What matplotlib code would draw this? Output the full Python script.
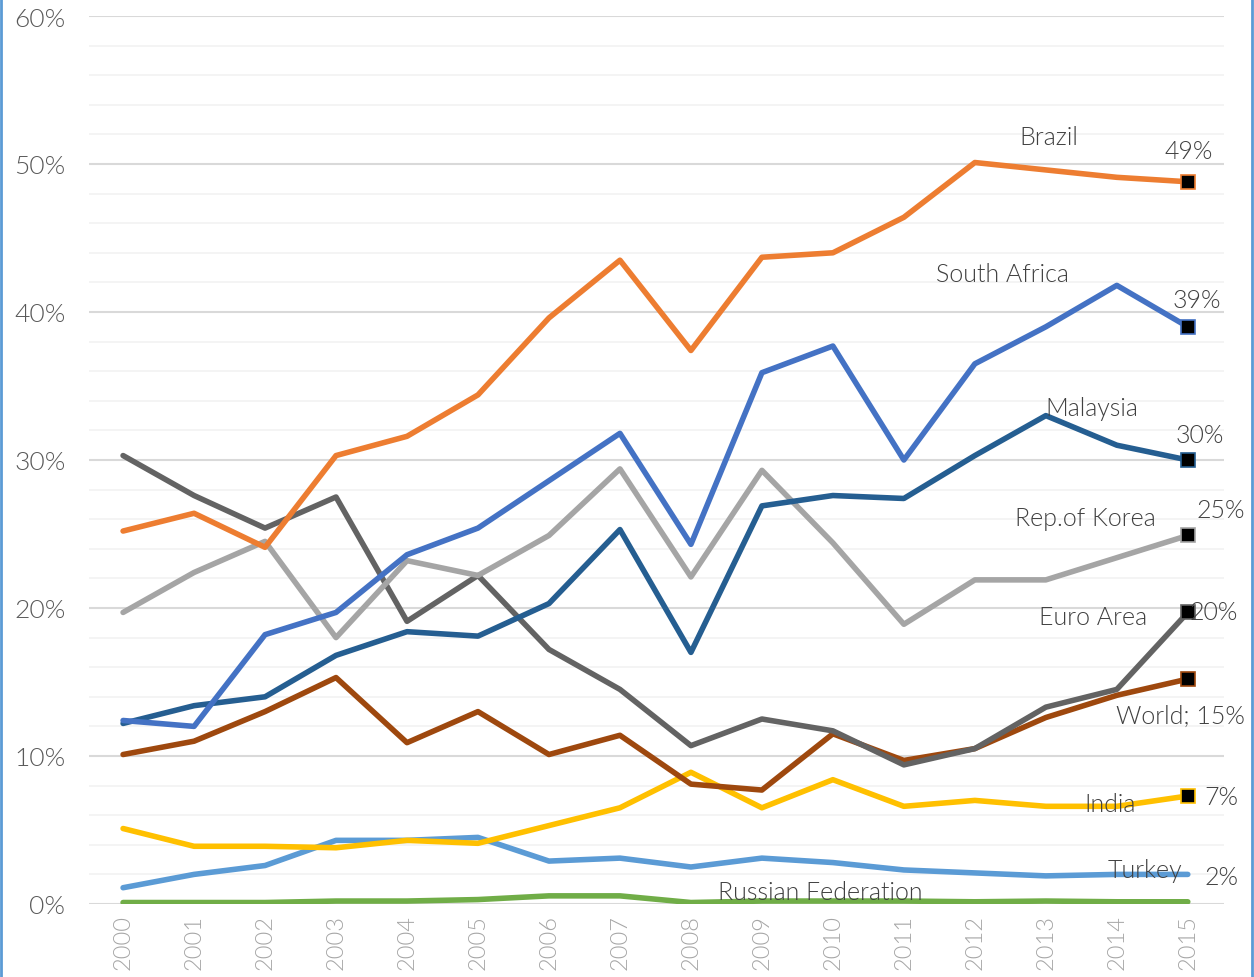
import numpy as np
import matplotlib
matplotlib.use("Agg")
import matplotlib.pyplot as plt
from matplotlib.lines import Line2D

plt.rcParams['font.family'] = ['Lato', 'DejaVu Sans']
plt.rcParams['font.weight'] = 300

years = list(range(2000, 2016))

brazil = [25.2, 26.4, 24.1, 30.3, 31.6, 34.4, 39.6, 43.5, 37.4, 43.7, 44.0, 46.4, 50.1, 49.6, 49.1, 48.8]
south_africa = [12.4, 12.0, 18.2, 19.7, 23.6, 25.4, 28.6, 31.8, 24.3, 35.9, 37.7, 30.0, 36.5, 39.0, 41.8, 39.0]
malaysia = [12.2, 13.4, 14.0, 16.8, 18.4, 18.1, 20.3, 25.3, 17.0, 26.9, 27.6, 27.4, 30.3, 33.0, 31.0, 30.0]
korea = [19.7, 22.4, 24.5, 18.0, 23.2, 22.2, 24.9, 29.4, 22.1, 29.3, 24.4, 18.9, 21.9, 21.9, 23.4, 24.9]
euro_area = [30.3, 27.6, 25.4, 27.5, 19.1, 22.2, 17.2, 14.5, 10.7, 12.5, 11.7, 9.4, 10.5, 13.3, 14.5, 19.7]
world = [10.1, 11.0, 13.0, 15.3, 10.9, 13.0, 10.1, 11.4, 8.1, 7.7, 11.5, 9.7, 10.5, 12.6, 14.1, 15.2]
india = [5.1, 3.9, 3.9, 3.8, 4.3, 4.1, 5.3, 6.5, 8.9, 6.5, 8.4, 6.6, 7.0, 6.6, 6.6, 7.3]
turkey = [1.1, 2.0, 2.6, 4.3, 4.3, 4.5, 2.9, 3.1, 2.5, 3.1, 2.8, 2.3, 2.1, 1.9, 2.0, 2.0]
russia = [0.1, 0.1, 0.1, 0.2, 0.2, 0.3, 0.55, 0.55, 0.1, 0.2, 0.2, 0.2, 0.15, 0.2, 0.15, 0.15]

# series drawn in this order: name, data, colour, end marker
series = [
    ("Russian Federation", russia, "#70AD47", False),
    ("Turkey", turkey, "#5B9BD5", False),
    ("India", india, "#FFC000", True),
    ("World", world, "#9E480E", True),
    ("Euro Area", euro_area, "#636363", True),
    ("Rep.of Korea", korea, "#A5A5A5", True),
    ("Malaysia", malaysia, "#255E91", True),
    ("South Africa", south_africa, "#4472C4", True),
    ("Brazil", brazil, "#ED7D31", True),
]

fig = plt.figure(figsize=(12.54, 9.78), dpi=100)
ax = fig.add_axes([89/1254, 1 - 905/978, (1224-89)/1254, (905-17)/978])

for name, vals, col, mark in series:
    ax.plot(years, vals, color=col, lw=4, solid_capstyle='round', zorder=3)
    if mark:
        ax.plot(years[-1], vals[-1], marker='s', ms=10, mfc='black', mec=col,
                mew=1.2, zorder=4)

ax.set_xlim(1999.52, 2015.51)
ax.set_ylim(0, 60)
ax.set_yticks(np.arange(0, 61, 10))
ax.set_yticklabels([f"{v}%" for v in range(0, 61, 10)])
ax.set_yticks(np.arange(0, 61, 2), minor=True)
ax.set_xticks(years)
ax.set_xticklabels([str(y) for y in years], rotation=90)

ax.grid(True, which='major', axis='y', color='#D9D9D9', lw=1.5, zorder=0)
ax.grid(True, which='minor', axis='y', color='#F2F2F2', lw=1.2, zorder=0)
ax.grid(False, axis='x')
for s in ax.spines.values():
    s.set_visible(False)
ax.tick_params(axis='both', which='both', length=0)
ax.tick_params(axis='y', labelsize=19, labelcolor='#595959', pad=17)
ax.tick_params(axis='x', labelsize=17, labelcolor='#A6A6A6', pad=7)

# data labels
lab = dict(fontsize=18, color='#404040', ha='center', va='center', zorder=5)
ax.text(2013.04, 51.8, "Brazil", **lab)
ax.text(2015.01, 50.9, "49%", **lab)
ax.text(2012.39, 42.6, "South Africa", **lab)
ax.text(2015.13, 40.8, "39%", **lab)
ax.text(2013.65, 33.5, "Malaysia", **lab)
ax.text(2015.17, 31.7, "30%", **lab)
ax.text(2013.56, 26.1, "Rep.of Korea", **lab)
ax.text(2015.46, 26.6, "25%", **lab)
ax.text(2013.66, 19.4, "Euro Area", **lab)
ax.text(2015.37, 19.7, "20%", **lab)
ax.text(2014.89, 12.7, "World; 15%", **lab)
ax.text(2013.90, 6.75, "India", **lab)
ax.text(2015.48, 7.2, "7%", **lab)
ax.text(2014.39, 2.3, "Turkey", **lab)
ax.text(2015.48, 1.8, "2%", **lab)
ax.text(2009.82, 0.8, "Russian Federation", **lab)

# blue side borders
fig.add_artist(Line2D([0.0008, 0.0008], [0, 1], color='#5B9BD5', lw=2, transform=fig.transFigure))
fig.add_artist(Line2D([0.9985, 0.9985], [0, 1], color='#5B9BD5', lw=2, transform=fig.transFigure))

fig.savefig("out.png", dpi=100)
